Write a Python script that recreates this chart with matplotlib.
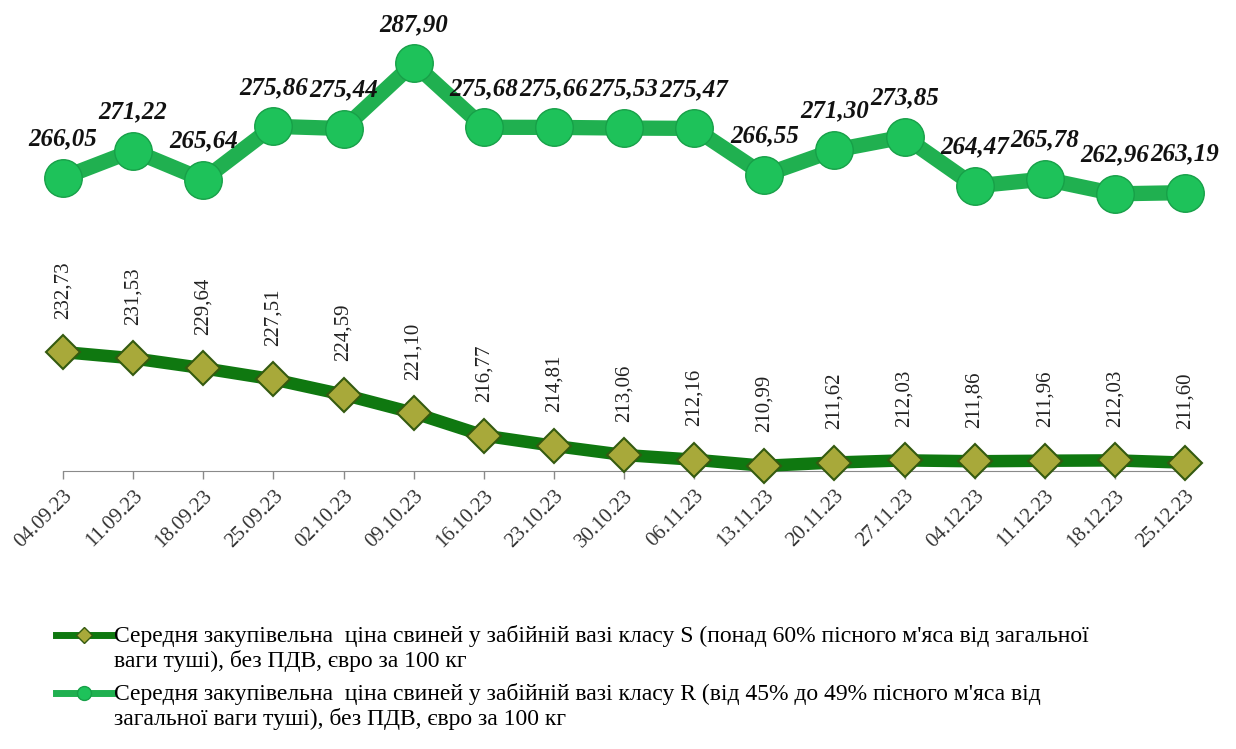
import matplotlib.pyplot as plt
from matplotlib.lines import Line2D
from matplotlib.legend_handler import HandlerLine2D
from matplotlib.transforms import Affine2D

plt.rcParams['font.family'] = ['Liberation Serif', 'DejaVu Serif']

# weekly dates
DATES = ["04.09.23", "11.09.23", "18.09.23", "25.09.23", "02.10.23", "09.10.23",
         "16.10.23", "23.10.23", "30.10.23", "06.11.23", "13.11.23", "20.11.23",
         "27.11.23", "04.12.23", "11.12.23", "18.12.23", "25.12.23"]

# class S price, EUR per 100 kg
PRICE_S = [232.73, 231.53, 229.64, 227.51, 224.59, 221.10, 216.77, 214.81, 213.06,
           212.16, 210.99, 211.62, 212.03, 211.86, 211.96, 212.03, 211.60]

# class R price, EUR per 100 kg
PRICE_R = [266.05, 271.22, 265.64, 275.86, 275.44, 287.90, 275.68, 275.66, 275.53,
           275.47, 266.55, 271.30, 273.85, 264.47, 265.78, 262.96, 263.19]

LABEL_S = ("Середня закупівельна  ціна свиней у забійній вазі класу S (понад 60% пісного м'яса від загальної\n"
           "ваги туші), без ПДВ, євро за 100 кг")
LABEL_R = ("Середня закупівельна  ціна свиней у забійній вазі класу R (від 45% до 49% пісного м'яса від\n"
           "загальної ваги туші), без ПДВ, євро за 100 кг")

DARK = "#0f7810"
LIGHT = "#20b050"


class TopHandler(HandlerLine2D):
    # put the legend key level with the first line of a two-line label
    def __init__(self, dy, **kw):
        super().__init__(**kw)
        self.dy = dy

    def create_artists(self, legend, orig_handle, xdescent, ydescent,
                       width, height, fontsize, trans):
        arts = super().create_artists(legend, orig_handle, xdescent, ydescent,
                                      width, height, fontsize, trans)
        for a in arts:
            a.set_transform(trans + Affine2D().translate(0, self.dy))
        return arts


def fmt(v):
    return f"{v:.2f}".replace(".", ",")


fig = plt.figure(figsize=(12.36, 7.49), dpi=100)
ax = fig.add_axes([63 / 1236, 1 - 471 / 749, 1122 / 1236, 471 / 749])

x = list(range(len(DATES)))

# class S line with diamonds
ax.plot(x, PRICE_S, color=DARK, lw=9, marker='D', ms=17.5,
        markerfacecolor="#a8a93a", markeredgecolor="#345a10", markeredgewidth=1.5,
        clip_on=False, zorder=3)
# class R line with circles
ax.plot(x, PRICE_R, color=LIGHT, lw=11, marker='o', ms=27,
        markerfacecolor="#1ec25a", markeredgecolor="#17a048", markeredgewidth=1,
        clip_on=False, zorder=3)

for xi, v in zip(x, PRICE_S):
    ax.annotate(fmt(v), (xi, v), xytext=(0, 24), textcoords='offset points',
                rotation=90, ha='center', va='bottom', fontsize=15, color="#222222")

for xi, v in zip(x, PRICE_R):
    ax.annotate(fmt(v), (xi, v), xytext=(0, 28), textcoords='offset points',
                ha='center', va='center', fontsize=18, fontweight='bold',
                fontstyle='italic', color="#111111")

ax.set_xlim(0, len(DATES) - 1)
ax.set_ylim(210, 300)
ax.set_xticks(x)
ax.set_xticklabels(DATES, rotation=45, ha='right', va='top',
                   rotation_mode='anchor', fontsize=15, color="#333333")
ax.tick_params(axis='x', length=6, width=1, color="#8a8a8a", pad=5)
ax.set_yticks([])
for s in ['top', 'right', 'left']:
    ax.spines[s].set_visible(False)
ax.spines['bottom'].set_color("#8a8a8a")
ax.patch.set_alpha(0)

handles = [
    Line2D([], [], color=DARK, lw=5, marker='D', ms=8,
           markerfacecolor="#a8a93a", markeredgecolor="#345a10"),
    Line2D([], [], color=LIGHT, lw=5, marker='o', ms=10,
           markerfacecolor="#1ec25a", markeredgecolor="#17a048"),
]
fig.legend(handles, [LABEL_S, LABEL_R], loc='upper left',
           bbox_to_anchor=(44 / 1236, 1 - 613 / 749), frameon=False,
           fontsize=17, handlelength=2.4, handletextpad=0.05,
           labelspacing=0.45, borderpad=0,
           handler_map={Line2D: TopHandler(13)})

fig.savefig("out.png", dpi=100)
